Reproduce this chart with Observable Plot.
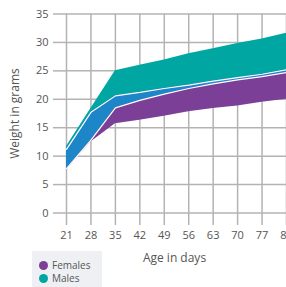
<!DOCTYPE html>
<html>
<head>
<meta charset="utf-8">
<script src="https://cdn.jsdelivr.net/npm/d3@7"></script>
<script src="https://cdn.jsdelivr.net/npm/@observablehq/plot@0.6"></script>
<style>
  html, body { margin: 0; padding: 0; background: #fff; overflow: hidden; width: 286px; height: 287px; }
  #wrap { position: relative; width: 286px; height: 287px; overflow: hidden; }
  #wrap svg { max-width: none !important; }
  #legend { position: absolute; left: 32px; top: 251px; width: 70px; height: 36px; background: #eef0f3;
    font-family: "Open Sans", sans-serif; font-size: 10px; color: #555; }
  .item { position: absolute; left: 7px; display: flex; align-items: center; }
  .dot { width: 9px; height: 9px; border-radius: 50%; margin-right: 4px; }
</style>
</head>
<body>
<div id="wrap"></div>
<script>
const days = [21, 28, 35, 42, 49, 56, 63, 70, 77, 84];
const femaleLow  = [7.5, 12.5, 15.7, 16.3, 17.0, 17.8, 18.4, 18.8, 19.5, 20.0];
const femaleHigh = [11.2, 17.7, 20.6, 21.2, 21.9, 22.5, 23.2, 23.8, 24.4, 25.2];
const maleLow    = [7.8, 12.8, 18.5, 19.8, 20.9, 21.9, 22.7, 23.4, 24.0, 24.7];
const maleHigh   = [11.7, 18.4, 25.0, 26.0, 26.9, 28.0, 28.9, 29.8, 30.6, 31.6];
const yTicks = [0, 5, 10, 15, 20, 25, 30, 35];
const seriesNames = ["Females", "Males"];
const seriesColors = ["#7c3f98", "#00a7a2"];
const overlapColor = "#1c86c9";

const rows = days.map((d, i) => ({day: d, fLo: femaleLow[i], fHi: femaleHigh[i], mLo: maleLow[i], mHi: maleHigh[i]}));
const gridColor = "#b3b3b3";

const chart = Plot.plot({
  width: 300,
  height: 265,
  marginLeft: 66,
  marginRight: 14,
  marginTop: 13.5,
  marginBottom: 52.5,
  style: {fontFamily: "'Open Sans', sans-serif", fontSize: "11px", color: "#555", background: "#fff", maxWidth: "none"},
  x: {domain: [21, 84], ticks: days},
  y: {domain: [0, 35], ticks: yTicks},
  marks: [
    Plot.gridX(days, {stroke: gridColor, strokeOpacity: 1, strokeWidth: 1.5}),
    Plot.gridY(yTicks, {stroke: gridColor, strokeOpacity: 1, strokeWidth: 1.5}),
    Plot.axisX(days, {tickSize: 12.5, tickPadding: 6, stroke: gridColor, strokeWidth: 1.5, fill: "#555", fontSize: 11, label: null}),
    Plot.axisY(yTicks, {tickSize: 13, tickPadding: 5, stroke: gridColor, strokeWidth: 1.5, fill: "#555", fontSize: 11, label: null}),
    Plot.areaY(rows, {x: "day", y1: "mLo", y2: "mHi", fill: seriesColors[1]}),
    Plot.areaY(rows, {x: "day", y1: "fLo", y2: "fHi", fill: seriesColors[0]}),
    Plot.areaY(rows, {x: "day", y1: "mLo", y2: "fHi", fill: overlapColor}),
    Plot.line(rows, {x: "day", y: "fHi", stroke: "#fff", strokeWidth: 1.2}),
    Plot.line(rows, {x: "day", y: "mLo", stroke: "#fff", strokeWidth: 1.2}),
    Plot.text(["Weight in grams"], {frameAnchor: "left", rotate: -90, dx: -51, textAnchor: "middle", lineAnchor: "middle", fontSize: 12, fill: "#555"}),
    Plot.text(["Age in days"], {frameAnchor: "bottom", dy: 45, dx: -2, textAnchor: "middle", lineAnchor: "middle", fontSize: 12, fill: "#555"})
  ]
});
const wrap = document.getElementById("wrap");
wrap.appendChild(chart);

const legend = document.createElement("div");
legend.id = "legend";
seriesNames.forEach((name, i) => {
  const it = document.createElement("div");
  it.className = "item";
  it.style.top = (7 + i * 13) + "px";
  it.innerHTML = `<span class="dot" style="background:${seriesColors[i]}"></span><span>${name}</span>`;
  legend.appendChild(it);
});
wrap.appendChild(legend);
</script>
</body>
</html>
